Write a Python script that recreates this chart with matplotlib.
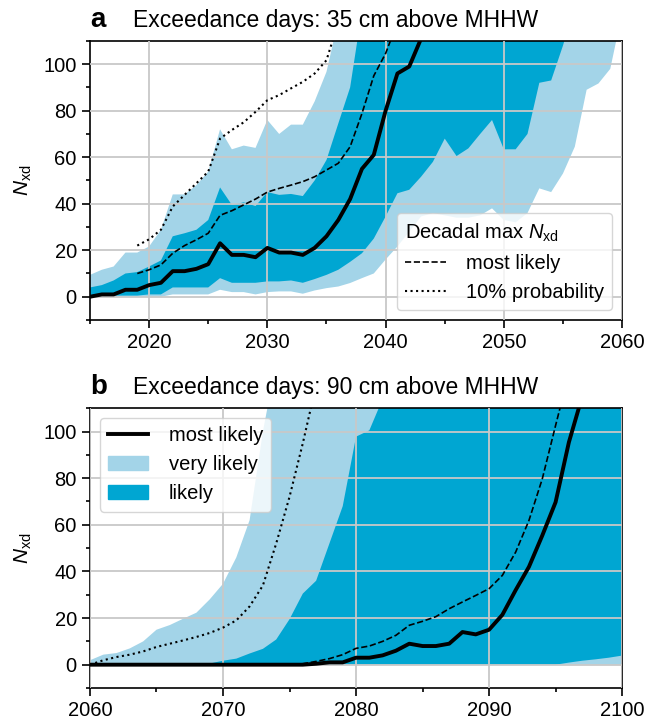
import numpy as np
import matplotlib
matplotlib.use('Agg')
import matplotlib.pyplot as plt
import matplotlib.patches as mpatches
import matplotlib.lines as mlines
from matplotlib.ticker import MultipleLocator

plt.rcParams['font.family'] = ['Liberation Sans', 'DejaVu Sans']
plt.rcParams['mathtext.fontset'] = 'custom'
plt.rcParams['mathtext.rm'] = 'Liberation Sans'
plt.rcParams['mathtext.it'] = 'Liberation Sans:italic'

nan = np.nan
light = '#a3d4e8'
dark = '#00a6d2'

# ---- panel a: 35 cm above MHHW, 2015-2060
years_a = np.arange(2015, 2061)
solid_a = [0, 1, 1, 3, 3, 5, 6, 11, 11, 12, 14, 23, 18, 18, 17, 21, 19, 19, 18, 21,
           26, 33, 42, 55, 61, 80, 96, 99, 111, 128, 145, 160, 178, 195, 210, 225,
           240, 252, 265, 278, 290, 300, 310, 320, 330, 340]
dashed_a = [nan, nan, nan, nan, 10, 11.6, 13.7, 18.7, 22, 24.5, 27.3, 35, 37, 39.5,
            42, 45, 46.6, 48, 49.5, 51.6, 54.5, 57.4, 64.5, 78.8, 95, 104.6, 118, 135,
            150, 165, 180, 195, 210, 225, 240, 255, 270, 285, 300, 310, 320, 330, 340,
            350, 360, 370]
dotted_a = [nan, nan, nan, nan, 22, 24.7, 28.8, 38.8, 43.8, 48.8, 53.8, 68, 71.7, 75,
            79.5, 84.5, 86.7, 89.6, 92.4, 96, 101.7, 118, 135, 150, 165, 180, 195, 210,
            225, 240, 255, 270, 285, 300, 315, 330, 345, 360, 375, 390, 400, 410, 420,
            430, 440, 450]
light_hi_a = [9.4, 11.6, 13, 19, 19, 21.6, 28.8, 44, 44, 48, 53.8, 72, 63.4, 65, 64,
              76, 70, 74, 74, 84, 96.7, 119, 140, 160, 180, 200, 220, 240, 260, 280,
              300, 320, 340, 360, 380, 400, 420, 440, 460, 480, 500, 520, 540, 560,
              580, 600]
dark_hi_a = [4, 5, 7, 10, 10.6, 13, 15.6, 26, 27.3, 28.8, 33, 47, 39.5, 40.6, 39, 45,
             43.8, 44.2, 43.3, 50, 58.8, 74.5, 90, 123, 140, 160, 180, 200, 220, 240,
             260, 280, 300, 320, 340, 360, 380, 400, 420, 440, 460, 480, 500, 520,
             540, 560]
dark_lo_a = [0, 0.5, 0.5, 0.5, 0.5, 1, 1, 4, 4, 4, 4, 8, 6, 6, 6, 6.6, 6.6, 7, 6, 7.6,
             9.4, 11.6, 15, 18.7, 25, 34.5, 44.5, 46, 51.6, 58, 68, 60.5, 63.8, 70, 76,
             63.4, 63.4, 70, 92, 93, 108, 125, 135, 145, 155, 165]
light_lo_a = [0, 0, 0, 0, 0, 0, 0, 1, 1, 1, 1, 3, 2, 2, 1, 2, 2.3, 2.3, 1.3, 2.7, 3.7,
              4.4, 5.9, 8, 10, 16, 21.6, 28, 34.5, 36, 35, 34, 34, 35, 38, 33, 32, 36,
              46.6, 45, 53, 64.5, 89, 91.7, 98, 122]

# ---- panel b: 90 cm above MHHW, 2060-2100
years_b = np.arange(2060, 2101)
solid_b = [0] * 17 + [0.4, 1, 1, 3, 3, 4, 6, 9, 8, 8, 9, 14, 13, 15, 21.4, 32, 42,
                      55.4, 69.7, 95.4, 115, 135, 155, 175]
dashed_b = [0] * 16 + [0.4, 1.4, 2.6, 4.3, 7, 8, 10, 12.6, 16.9, 18.6, 20.6, 24, 26.9,
                       29.7, 32.6, 38.3, 48.3, 61.9, 79.7, 102.6, 125, 150, 170, 190, 210]
dotted_b = [0, 1.9, 3.3, 4.3, 5.7, 7.6, 9, 10.4, 11.9, 13.6, 15.9, 19, 25, 34, 52, 72,
            95, 120, 140, 160, 180, 200, 220, 240, 260, 280, 300, 320, 340, 360, 380,
            400, 420, 440, 460, 480, 500, 520, 540, 560, 580]
light_hi_b = [1.9, 4.3, 5, 7, 10, 15, 17, 19.7, 22.3, 28, 34.7, 46, 62, 100, 130, 160,
              190, 220, 250, 280, 310, 340, 370, 400, 430, 460, 490, 520, 550, 580,
              610, 640, 670, 700, 730, 760, 790, 820, 850, 880, 910]
dark_hi_b = [0, 0, 0, 0, 0, 0, 0, 0, 0.2, 0.5, 1.7, 2.6, 4.8, 6.8, 10.8, 19.5, 30.5,
             36, 52, 68, 97.8, 100.5, 114, 130, 150, 170, 190, 210, 230, 250, 270, 290,
             310, 330, 350, 370, 390, 410, 430, 450, 470]
dark_lo_b = [0] * 36 + [0.9, 1.7, 2.3, 3.0, 3.9]
light_lo_b = [0] * 41


def draw_panel(ax, years, llo, lhi, dlo, dhi, solid, dashed, dotted, letter, title):
    ax.fill_between(years, llo, lhi, color=light, lw=0, zorder=1)
    ax.fill_between(years, dlo, dhi, color=dark, lw=0, zorder=1.1)
    ax.plot(years, dotted, color='k', ls=':', lw=1.5, zorder=3)
    ax.plot(years, dashed, color='k', ls='--', lw=1.2, zorder=3)
    ax.plot(years, solid, color='k', ls='-', lw=2.8, zorder=3.1)
    ax.set_ylim(-10, 110)
    ax.yaxis.set_major_locator(MultipleLocator(20))
    ax.yaxis.set_minor_locator(MultipleLocator(10))
    ax.xaxis.set_major_locator(MultipleLocator(10))
    ax.xaxis.set_minor_locator(MultipleLocator(5))
    ax.set_axisbelow(False)
    ax.grid(which='major', color='#c8c8c8', lw=1.3, zorder=2)
    ax.tick_params(which='major', length=5.5, width=1.2, labelsize=14.5, pad=4)
    ax.tick_params(which='minor', length=3, width=1.2)
    for s in ax.spines.values():
        s.set_linewidth(1.2)
    ax.set_ylabel(r'$N_{\rm xd}$', fontsize=15, labelpad=7)
    ax.text(0.0, 1.05, letter, transform=ax.transAxes, fontsize=20,
            fontweight='bold', ha='left', va='baseline')
    ax.text(0.081, 1.05, title, transform=ax.transAxes, fontsize=16.5,
            ha='left', va='baseline')


fig = plt.figure(figsize=(6.45, 7.23), dpi=100)
ax1 = fig.add_axes([0.1395, 0.5574, 0.825, 0.386])
ax2 = fig.add_axes([0.1395, 0.0484, 0.825, 0.387])

draw_panel(ax1, years_a, light_lo_a, light_hi_a, dark_lo_a, dark_hi_a,
           solid_a, dashed_a, dotted_a, 'a', 'Exceedance days: 35 cm above MHHW')
ax1.set_xlim(2015, 2060)

draw_panel(ax2, years_b, light_lo_b, light_hi_b, dark_lo_b, dark_hi_b,
           solid_b, dashed_b, dotted_b, 'b', 'Exceedance days: 90 cm above MHHW')
ax2.set_xlim(2060, 2100)

h_dash = mlines.Line2D([], [], color='k', ls='--', lw=1.2)
h_dot = mlines.Line2D([], [], color='k', ls=':', lw=1.5)
ax1.legend([h_dash, h_dot], ['most likely', '10% probability'],
           title=r'Decadal max $N_{\rm xd}$', loc='lower right',
           fontsize=14.5, title_fontsize=14.5, alignment='left',
           borderaxespad=0.5, handletextpad=1.0)

h_solid = mlines.Line2D([], [], color='k', ls='-', lw=2.8)
h_vl = mpatches.Patch(color=light)
h_l = mpatches.Patch(color=dark)
ax2.legend([h_solid, h_vl, h_l], ['most likely', 'very likely', 'likely'],
           loc='upper left', fontsize=14.5, handletextpad=1.0)

fig.savefig('out.png', dpi=100)
